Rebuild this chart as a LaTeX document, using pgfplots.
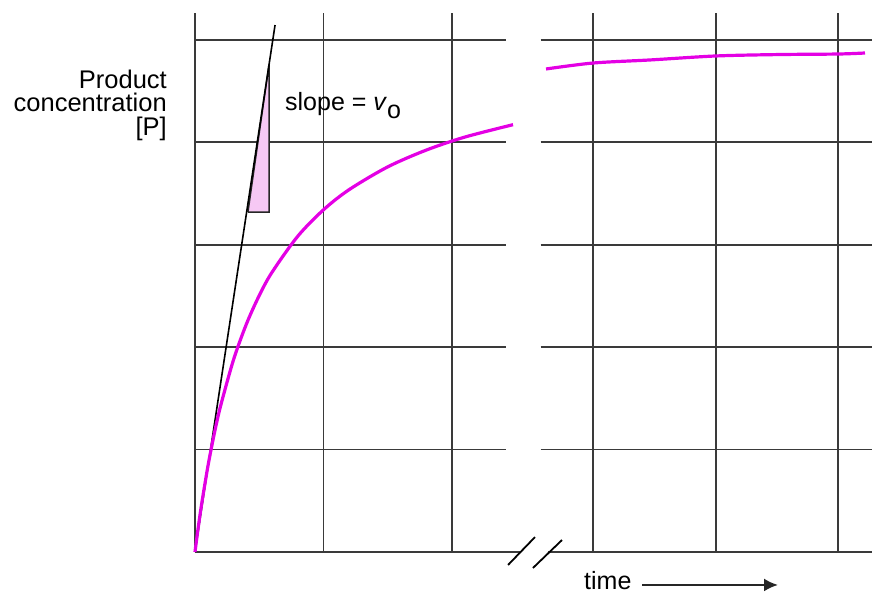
\documentclass[border=0pt]{standalone}
\usepackage{pgfplots}
\pgfplotsset{compat=1.18}
\usepackage{fontspec}
\setmainfont{Liberation Sans}
\usetikzlibrary{arrows.meta}
\definecolor{mag}{HTML}{E400E4}
\definecolor{tri}{HTML}{F6C8F4}
\definecolor{gridc}{HTML}{3A3A3A}
\begin{document}
\begin{tikzpicture}
\useasboundingbox (-195pt,-42pt) rectangle (677pt,552pt);
\begin{axis}[x=128.5pt, y=102.4pt, xmin=0, xmax=5.268, ymin=0, ymax=5.26,
  enlargelimits=false, hide axis, clip=false]
% vertical grid lines
\addplot[gridc, line width=2.2pt] coordinates {(0,0) (0,5.26)};
\addplot[gridc, line width=1.8pt] coordinates {(1,0) (1,5.26)};
\addplot[gridc, line width=1.8pt] coordinates {(2,0) (2,5.26)};
\addplot[gridc, line width=1.8pt] coordinates {(3.097,0) (3.097,5.26)};
\addplot[gridc, line width=1.8pt] coordinates {(4.054,0) (4.054,5.26)};
\addplot[gridc, line width=1.8pt] coordinates {(5.004,0) (5.004,5.26)};
% horizontal grid lines, left panel
\addplot[gridc, line width=1.8pt] coordinates {(0,1) (2.42,1)};
\addplot[gridc, line width=1.8pt] coordinates {(0,2) (2.42,2)};
\addplot[gridc, line width=1.8pt] coordinates {(0,3) (2.42,3)};
\addplot[gridc, line width=1.8pt] coordinates {(0,4) (2.42,4)};
\addplot[gridc, line width=1.8pt] coordinates {(0,5) (2.42,5)};
% horizontal grid lines, right panel
\addplot[gridc, line width=1.8pt] coordinates {(2.69,1) (5.268,1)};
\addplot[gridc, line width=1.8pt] coordinates {(2.69,2) (5.268,2)};
\addplot[gridc, line width=1.8pt] coordinates {(2.69,3) (5.268,3)};
\addplot[gridc, line width=1.8pt] coordinates {(2.69,4) (5.268,4)};
\addplot[gridc, line width=1.8pt] coordinates {(2.69,5) (5.268,5)};
% bottom axis (broken)
\addplot[gridc, line width=2.6pt] coordinates {(0,0) (2.537,0)};
\addplot[gridc, line width=2.6pt] coordinates {(2.747,0) (5.268,0)};
% triangle
\addplot[fill=tri, draw=black!85, line width=1.5pt] coordinates {(0.412,3.320) (0.576,3.320) (0.576,4.761) (0.412,3.320)};
% tangent
\addplot[black, line width=1.6pt] coordinates {(0,0) (0.623,5.146)};
% curve, left panel
\addplot[mag, line width=3.2pt, smooth] coordinates {
(0,0) (0.02,0.192) (0.05,0.455) (0.1,0.834) (0.15,1.155) (0.2,1.430)
(0.3,1.878) (0.4,2.226) (0.5,2.505) (0.6,2.733) (0.8,3.084) (1.0,3.342)
(1.2,3.539) (1.5,3.761) (1.8,3.925) (2.1,4.052) (2.475,4.173)};
% curve, right panel
\addplot[mag, line width=3.2pt, smooth] coordinates {
(2.732,4.717) (3.097,4.775) (3.541,4.805) (4.054,4.844) (4.553,4.858) (5.004,4.863) (5.214,4.873)};
% break marks
\addplot[black, line width=1.8pt] coordinates {(2.436,-0.127) (2.646,0.146)};
\addplot[black, line width=1.8pt] coordinates {(2.630,-0.156) (2.856,0.117)};
% labels
\node[anchor=north east, inner sep=0pt, align=right, font=\fontsize{25.5}{23.5}\selectfont] at (axis cs:-0.218,4.710) {Product\\concentration\\{}[P]};
\node[anchor=base west, font=\fontsize{25}{28}\selectfont, inner sep=0pt] at (axis cs:0.700,4.316) {slope = \textit{v}\raisebox{-8pt}{o}};
\node[anchor=base west, font=\fontsize{25}{28}\selectfont, inner sep=0pt] at (axis cs:3.027,-0.365) {time};
\draw[black!85, line width=2.2pt, -{Latex[length=14pt,width=13pt]}] (axis cs:3.479,-0.322) -- (axis cs:4.537,-0.322);
\end{axis}
\end{tikzpicture}
\end{document}
